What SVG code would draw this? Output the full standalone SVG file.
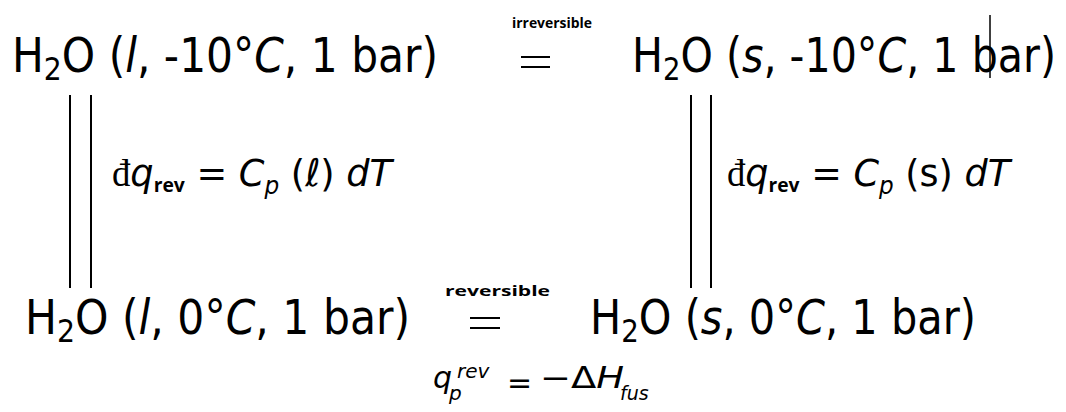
<svg xmlns="http://www.w3.org/2000/svg" width="1066" height="412" viewBox="0 0 1066 412">
<style>
.st{font-family:"DejaVu Sans","Liberation Sans",sans-serif;font-size:48px;fill:#000}
.it{font-style:italic}
.lbl{font-family:"Open Sans","DejaVu Sans",sans-serif;font-size:15px;font-weight:bold;fill:#000}
.eq{font-family:"DejaVu Sans",sans-serif;font-size:38px;font-style:italic;fill:#000}
.eqs{font-family:"DejaVu Sans",sans-serif;font-size:30px;font-style:italic;fill:#000}
.ser{font-family:"Liberation Serif",serif;font-style:normal}
.sb{font-family:"Open Sans","DejaVu Sans",sans-serif;font-size:20px;font-weight:bold;font-style:normal}
.ln{stroke:#000;stroke-width:2;fill:none}
</style>
<g id="state-l-m10">
<text class="st" x="12" y="72" textLength="426" lengthAdjust="spacingAndGlyphs">H<tspan font-size="32" dy="8">2</tspan><tspan dy="-8">O (</tspan><tspan class="it">l</tspan>, -10°<tspan class="it">C</tspan>, 1 bar)</text>
</g>
<g id="state-s-m10">
<text class="st" x="632" y="72" textLength="424" lengthAdjust="spacingAndGlyphs">H<tspan font-size="32" dy="8">2</tspan><tspan dy="-8">O (</tspan><tspan class="it">s</tspan>, -10°<tspan class="it">C</tspan>, 1 bar)</text>
</g>
<g id="state-l-0">
<text class="st" x="25" y="334" textLength="385" lengthAdjust="spacingAndGlyphs">H<tspan font-size="32" dy="8">2</tspan><tspan dy="-8">O (</tspan><tspan class="it">l</tspan>, 0°<tspan class="it">C</tspan>, 1 bar)</text>
</g>
<g id="state-s-0">
<text class="st" x="590" y="334" textLength="386" lengthAdjust="spacingAndGlyphs">H<tspan font-size="32" dy="8">2</tspan><tspan dy="-8">O (</tspan><tspan class="it">s</tspan>, 0°<tspan class="it">C</tspan>, 1 bar)</text>
</g>
<g id="connectors">
<line class="ln" x1="70" y1="95" x2="70" y2="288"/>
<line class="ln" x1="91" y1="95" x2="91" y2="288"/>
<line class="ln" x1="691" y1="95" x2="691" y2="288"/>
<line class="ln" x1="711" y1="95" x2="711" y2="288"/>
<line class="ln" x1="521" y1="57" x2="550" y2="57"/>
<line class="ln" x1="521" y1="67" x2="550" y2="67"/>
<line class="ln" x1="470" y1="318" x2="500" y2="318"/>
<line class="ln" x1="470" y1="328" x2="500" y2="328"/>
<line x1="990" y1="15" x2="990" y2="78" stroke="#000" stroke-width="1.5"/>
<text class="lbl" x="512" y="28" textLength="80" lengthAdjust="spacingAndGlyphs">irreversible</text>
<text class="lbl" x="445" y="296" textLength="105" lengthAdjust="spacingAndGlyphs">reversible</text>
</g>
<g id="label-left">
<text class="eq" x="112" y="186" textLength="280" lengthAdjust="spacingAndGlyphs"><tspan class="ser">đ</tspan>q<tspan class="sb" dy="6">rev</tspan><tspan dy="-6" font-style="normal"> = </tspan>C<tspan font-size="24" dy="8">p</tspan><tspan dy="-8" font-style="normal"> (</tspan>ℓ<tspan font-style="normal">) </tspan>dT</text>
</g>
<g id="label-right">
<text class="eq" x="727" y="186" textLength="283" lengthAdjust="spacingAndGlyphs"><tspan class="ser">đ</tspan>q<tspan class="sb" dy="6">rev</tspan><tspan dy="-6" font-style="normal"> = </tspan>C<tspan font-size="24" dy="8">p</tspan><tspan dy="-8" font-style="normal"> (s) </tspan>dT</text>
</g>
<g id="label-bottom">
<text class="eqs" x="433" y="388">q</text>
<text class="eqs" x="449" y="400" style="font-size:20px">p</text>
<text class="eqs" x="457" y="378" style="font-size:20px">rev</text>
<text class="eqs" x="507" y="393" font-style="normal">=</text>
<text class="eqs" x="540" y="388" textLength="84" lengthAdjust="spacingAndGlyphs"><tspan font-style="normal">−Δ</tspan>H</text>
<text class="eqs" x="620" y="400" style="font-size:19px">fus</text>
</g>
</svg>
